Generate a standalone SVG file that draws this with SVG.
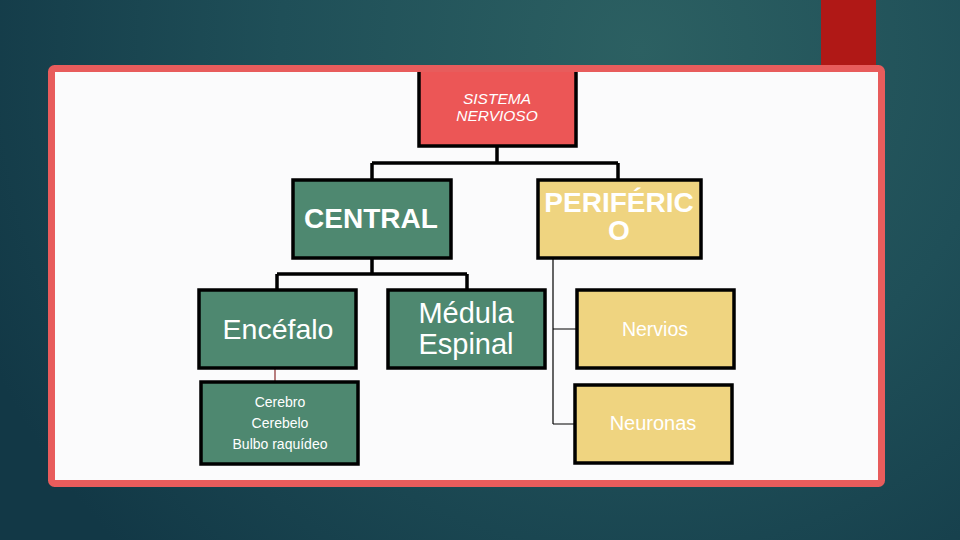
<svg xmlns="http://www.w3.org/2000/svg" width="960" height="540" viewBox="0 0 960 540">
<defs>
<radialGradient id="bg" cx="640" cy="50" r="720" gradientUnits="userSpaceOnUse">
<stop offset="0" stop-color="#2c6062"/>
<stop offset="0.5" stop-color="#1f4f58"/>
<stop offset="1" stop-color="#123846"/>
</radialGradient>
<style>
.box{stroke:#000;stroke-width:3.5}
.g{fill:#4e8870}
.y{fill:#efd480}
.t{fill:#fff;font-family:"Liberation Sans",Arial,sans-serif;text-anchor:middle}
.b{font-weight:bold}
.thick{fill:none;stroke:#000;stroke-width:3.5}
.thin{fill:none;stroke:#000;stroke-width:1.2}
</style>
</defs>
<rect width="960" height="540" fill="url(#bg)"/>
<rect x="821" y="0" width="55" height="68" fill="#b01816"/>
<rect x="51.5" y="68.5" width="830" height="415" rx="3" fill="#fbfbfc" stroke="#e85c5c" stroke-width="7"/>
<g id="connectors">
<path class="thick" d="M497 147V163M372 163H618M372 163V180M618 163V180"/>
<path class="thick" d="M372 258V274M277 274H467M277 274V290M467 274V290"/>
<path d="M275 368V382" fill="none" stroke="#8b2a2a" stroke-width="1.2"/>
<path class="thin" d="M553 258V424M553 329H577M553 424H575"/>
</g>
<g id="sistema">
<path d="M419 72V146H576V72" fill="#ec5656" stroke="#000" stroke-width="3.5"/>
<text class="t" x="497" y="104" font-size="15.5" font-style="italic">SISTEMA</text>
<text class="t" x="497" y="121" font-size="15.5" font-style="italic">NERVIOSO</text>
</g>
<g id="central">
<rect class="box g" x="293" y="180" width="158" height="78"/>
<text class="t b" x="371" y="228" font-size="28">CENTRAL</text>
</g>
<g id="periferico">
<rect class="box y" x="538" y="180" width="163" height="78"/>
<text class="t b" x="619" y="212" font-size="28">PERIFÉRIC</text>
<text class="t b" x="619" y="240" font-size="28">O</text>
</g>
<g id="encefalo">
<rect class="box g" x="199" y="290" width="157" height="78"/>
<text class="t" x="278" y="339" font-size="28.5">Encéfalo</text>
</g>
<g id="medula">
<rect class="box g" x="388" y="290" width="157" height="78"/>
<text class="t" x="466" y="323" font-size="29">Médula</text>
<text class="t" x="466" y="354" font-size="29">Espinal</text>
</g>
<g id="lista">
<rect class="box g" x="201" y="382" width="157" height="82"/>
<text class="t" x="280" y="407" font-size="14">Cerebro</text>
<text class="t" x="280" y="428" font-size="14">Cerebelo</text>
<text class="t" x="280" y="449" font-size="14">Bulbo raquídeo</text>
</g>
<g id="nervios">
<rect class="box y" x="577" y="290" width="157" height="78"/>
<text class="t" x="655" y="336" font-size="19.5">Nervios</text>
</g>
<g id="neuronas">
<rect class="box y" x="575" y="385" width="157" height="78"/>
<text class="t" x="653" y="430" font-size="20">Neuronas</text>
</g>
</svg>
